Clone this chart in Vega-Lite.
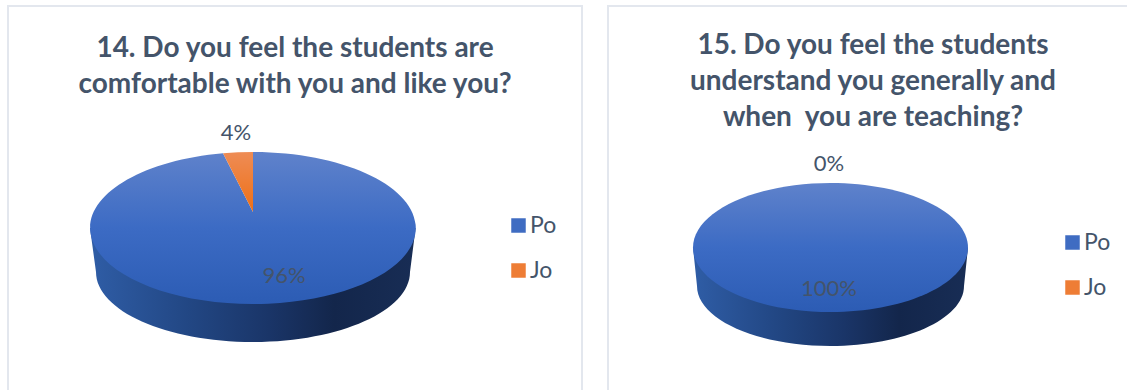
{
  "$schema": "https://vega.github.io/schema/vega-lite/v6.json",
  "padding": {"left": 7, "top": 5, "right": 0, "bottom": 0},
  "spacing": 24,
  "background": "white",
  "resolve": {"scale": {"color": "independent"}, "legend": {"color": "independent"}},
  "config": {
    "view": {"stroke": null},
    "title": {"font": "Lato", "fontWeight": "bold", "fontSize": 28, "color": "#44546A", "anchor": "middle", "lineHeight": 36},
    "legend": {"title": null, "orient": "none", "symbolType": "square", "symbolSize": 210, "symbolStrokeWidth": 0, "symbolOpacity": 1, "labelFont": "Lato", "labelFontSize": 23, "labelColor": "#44546A", "labelOffset": 0, "rowPadding": 21},
    "text": {"font": "Lato", "fontSize": 22, "color": "#44546A"}
  },
  "hconcat": [
    {
      "title": {"text": ["14. Do you feel the students are", "comfortable with you and like you?"], "offset": -94},
      "width": 574,
      "height": 390,
      "data": {"values": [
        {"answer": "Po", "share": 0.96},
        {"answer": "Jo", "share": 0.04}
      ]},
      "layer": [
        {
          "transform": [{"filter": "datum.answer === 'Po'"}],
          "mark": {"type": "rect", "fill": "white", "stroke": "#E3E7EE", "strokeWidth": 2},
          "encoding": {}
        },
        {
          "mark": {"type": "point", "filled": true, "opacity": 0, "size": 0},
          "encoding": {
            "color": {
              "field": "answer", "type": "nominal",
              "scale": {"domain": ["Po", "Jo"], "range": ["#3F6CC2", "#EE7D35"]},
              "legend": {"legendX": 499, "legendY": 208, "encoding": {"symbols": {"opacity": {"value": 1}}}}
            }
          }
        },
        {
          "transform": [{"filter": "datum.answer === 'Po'"}],
          "mark": {
            "type": "point", "filled": true, "opacity": 1, "size": 4, "strokeWidth": 0,
            "shape": "M -205 27 L -199 71 A 157 70 0 0 0 115 71 L 120.6 27 Z",
            "fill": {"gradient": "linear", "x1": 0, "y1": 0, "x2": 1, "y2": 0, "stops": [
              {"offset": 0, "color": "#2F5DA6"},
              {"offset": 0.3, "color": "#224784"},
              {"offset": 0.55, "color": "#1A3568"},
              {"offset": 0.75, "color": "#13264B"},
              {"offset": 1, "color": "#182D55"}
            ]}
          },
          "encoding": {}
        },
        {
          "transform": [{"filter": "datum.answer === 'Po'"}],
          "mark": {
            "type": "point", "filled": true, "opacity": 1, "size": 4, "strokeWidth": 0,
            "shape": "M -42 11 L -42 -49 A 162.8 76 0 1 1 -72 -47.7 Z",
            "fill": {"gradient": "linear", "x1": 0, "y1": 0, "x2": 0, "y2": 1, "stops": [
              {"offset": 0, "color": "#5F82CB"},
              {"offset": 0.5, "color": "#3C6BC4"},
              {"offset": 1, "color": "#2C5CB4"}
            ]}
          },
          "encoding": {}
        },
        {
          "transform": [{"filter": "datum.answer === 'Jo'"}],
          "mark": {
            "type": "point", "filled": true, "opacity": 1, "size": 4, "strokeWidth": 0,
            "shape": "M -42 11 L -72 -47.7 A 162.8 76 0 0 1 -42 -49 Z",
            "fill": {"gradient": "linear", "x1": 0, "y1": 0, "x2": 0, "y2": 1, "stops": [
              {"offset": 0, "color": "#EE8C55"},
              {"offset": 1, "color": "#EE6F16"}
            ]}
          },
          "encoding": {}
        },
        {
          "transform": [{"filter": "datum.answer === 'Jo'"}],
          "mark": {"type": "text", "dx": -59, "dy": -68},
          "encoding": {"text": {"field": "share", "type": "quantitative", "format": ".0%"}}
        },
        {
          "transform": [{"filter": "datum.answer === 'Po'"}],
          "mark": {"type": "text", "dx": -11, "dy": 75},
          "encoding": {"text": {"field": "share", "type": "quantitative", "format": ".0%"}}
        }
      ]
    },
    {
      "title": {"text": ["15. Do you feel the students", "understand you generally and", "when\u00a0 you are teaching?"], "offset": -127},
      "width": 530,
      "height": 390,
      "data": {"values": [
        {"answer": "Po", "share": 1},
        {"answer": "Jo", "share": 0}
      ]},
      "layer": [
        {
          "transform": [{"filter": "datum.answer === 'Po'"}],
          "mark": {"type": "rect", "fill": "white", "stroke": "#E3E7EE", "strokeWidth": 2},
          "encoding": {}
        },
        {
          "mark": {"type": "point", "filled": true, "opacity": 0, "size": 0},
          "encoding": {
            "color": {
              "field": "answer", "type": "nominal",
              "scale": {"domain": ["Po", "Jo"], "range": ["#3F6CC2", "#EE7D35"]},
              "legend": {"legendX": 453, "legendY": 225, "encoding": {"symbols": {"opacity": {"value": 1}}}}
            }
          }
        },
        {
          "transform": [{"filter": "datum.answer === 'Po'"}],
          "mark": {
            "type": "point", "filled": true, "opacity": 1, "size": 4, "strokeWidth": 0,
            "shape": "M -180 46.5 L -176 85 A 133.5 60 0 0 0 91 85 L 95 46.5 Z",
            "fill": {"gradient": "linear", "x1": 0, "y1": 0, "x2": 1, "y2": 0, "stops": [
              {"offset": 0, "color": "#2F5DA6"},
              {"offset": 0.3, "color": "#224784"},
              {"offset": 0.55, "color": "#1A3568"},
              {"offset": 0.75, "color": "#13264B"},
              {"offset": 1, "color": "#182D55"}
            ]}
          },
          "encoding": {}
        },
        {
          "transform": [{"filter": "datum.answer === 'Po'"}],
          "mark": {
            "type": "point", "filled": true, "opacity": 1, "size": 4, "strokeWidth": 0,
            "shape": "M -180 46.5 A 137.5 64.5 0 1 1 95 46.5 A 137.5 64.5 0 1 1 -180 46.5 Z",
            "fill": {"gradient": "linear", "x1": 0, "y1": 0, "x2": 0, "y2": 1, "stops": [
              {"offset": 0, "color": "#5F82CB"},
              {"offset": 0.5, "color": "#3C6BC4"},
              {"offset": 1, "color": "#2C5CB4"}
            ]}
          },
          "encoding": {}
        },
        {
          "transform": [{"filter": "datum.answer === 'Jo'"}],
          "mark": {"type": "text", "dx": -44, "dy": -37},
          "encoding": {"text": {"field": "share", "type": "quantitative", "format": ".0%"}}
        },
        {
          "transform": [{"filter": "datum.answer === 'Po'"}],
          "mark": {"type": "text", "dx": -44, "dy": 88},
          "encoding": {"text": {"field": "share", "type": "quantitative", "format": ".0%"}}
        }
      ]
    }
  ]
}
